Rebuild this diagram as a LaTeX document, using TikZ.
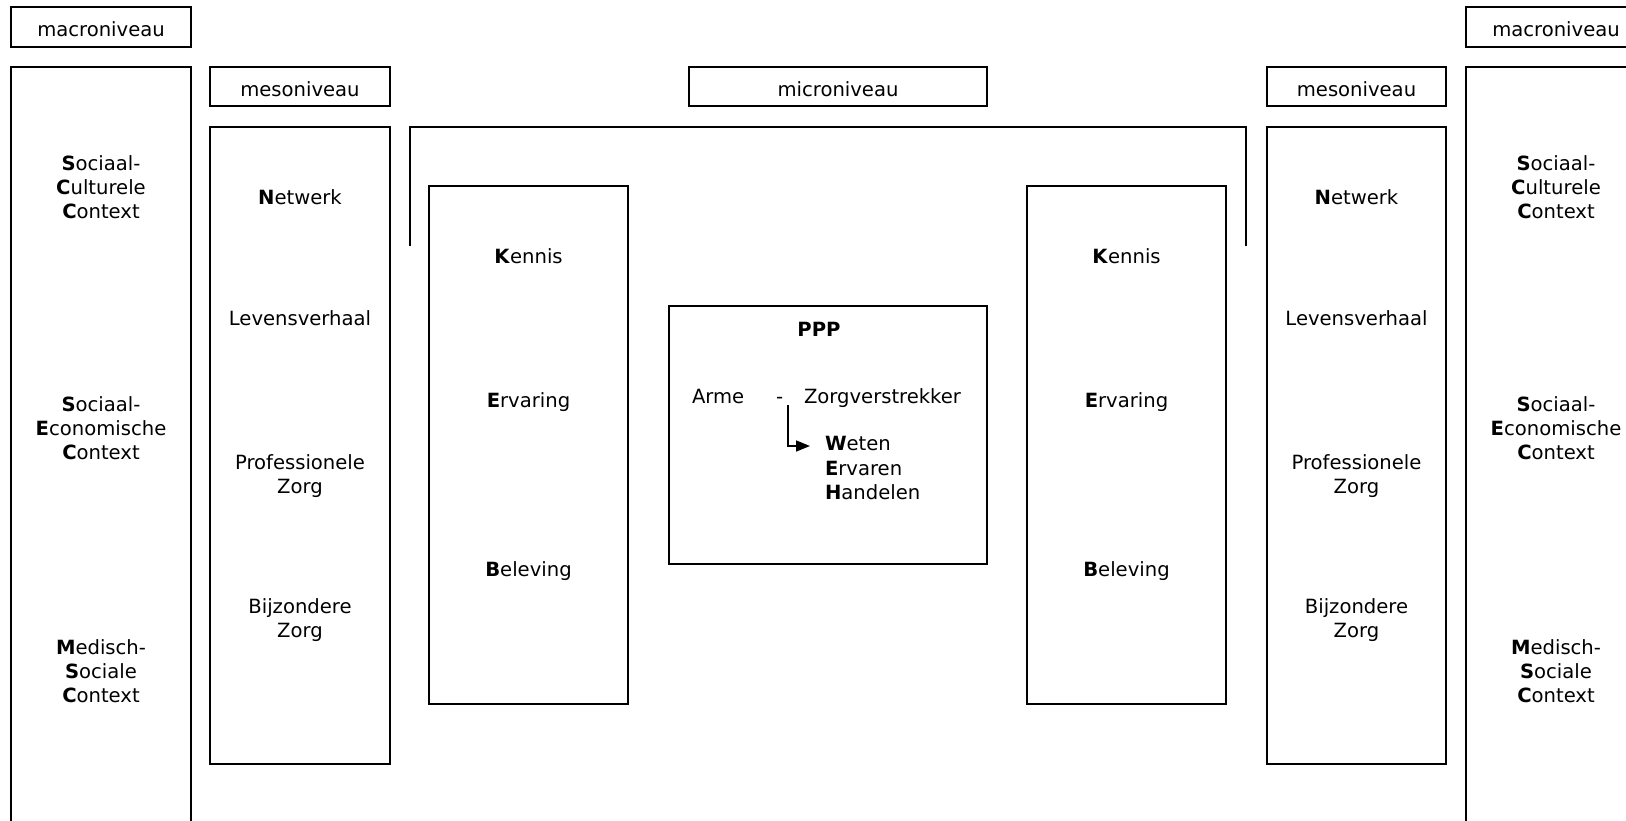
\documentclass[tikz,border=0pt]{standalone}
\usepackage{fontspec}
\setmainfont{DejaVu Sans}
\usetikzlibrary{arrows.meta}

\begin{document}
\begin{tikzpicture}[x=1pt,y=-1pt,
  frame/.style={draw=black, line width=1.6pt},
  lbl/.style={inner sep=0pt, outer sep=0pt, align=center,
    font=\fontsize{19.6}{24.2}\selectfont},
  lleft/.style={lbl, align=left, anchor=west},
  lbase/.style={lbl, anchor=base west},
  flow/.style={draw=black, line width=1.6pt, -{Triangle[length=14pt,width=11pt]}}
]
\useasboundingbox (0,0) rectangle (1626,820);
\clip (0,0) rectangle (1626,820);

% ---- macro level, left ----
\draw[frame] (11,7) rectangle (191,47);
\node[lbl] (macroL) at (101,29) {macroniveau};
\draw[frame] (11,830) -- (11,67) -- (191,67) -- (191,830);
\node[lbl] (scL) at (101,187) {\textbf{S}ociaal-\\\textbf{C}ulturele\\\textbf{C}ontext};
\node[lbl] (seL) at (101,428) {\textbf{S}ociaal-\\\textbf{E}conomische\\\textbf{C}ontext};
\node[lbl] (msL) at (101,671) {\textbf{M}edisch-\\\textbf{S}ociale\\\textbf{C}ontext};

% ---- meso level, left ----
\draw[frame] (210,67) rectangle (390,106);
\node[lbl] (mesoL) at (300,89) {mesoniveau};
\draw[frame] (210,127) rectangle (390,764);
\node[lbl] (netL) at (300,197) {\textbf{N}etwerk};
\node[lbl] (levL) at (300,318) {Levensverhaal};
\node[lbl] (proL) at (300,476) {Professionele\\Zorg};
\node[lbl] (bijL) at (300,620) {Bijzondere\\Zorg};

% ---- micro level ----
\draw[frame] (689,67) rectangle (987,106);
\node[lbl] (micro) at (838,89) {microniveau};
\draw[frame] (410,246) -- (410,127) -- (1246,127) -- (1246,246);

% knowledge / experience / perception, left
\draw[frame] (429,186) rectangle (628,704);
\node[lbl] (kenL) at (528.5,256) {\textbf{K}ennis};
\node[lbl] (ervL) at (528.5,402) {\textbf{E}rvaring};
\node[lbl] (belL) at (528.5,571) {\textbf{B}eleving};

% PPP
\draw[frame] (669,306) rectangle (987,564);
\node[lbl] (ppp) at (819,329) {\textbf{PPP}};
\node[lbase] (arme) at (692,403) {Arme};
\node[lbase] (dash) at (776,403) {-};
\node[lbase] (zorg) at (804,403) {Zorgverstrekker};
\node[lleft] (weh) at (825,468) {\textbf{W}eten\\\textbf{E}rvaren\\\textbf{H}andelen};
\coordinate (arrstart) at (788,405);
\coordinate (arrend) at (810,446);
\draw[flow] (arrstart) |- (arrend);

% knowledge / experience / perception, right
\draw[frame] (1027,186) rectangle (1226,704);
\node[lbl] (kenR) at (1126.5,256) {\textbf{K}ennis};
\node[lbl] (ervR) at (1126.5,402) {\textbf{E}rvaring};
\node[lbl] (belR) at (1126.5,571) {\textbf{B}eleving};

% ---- meso level, right ----
\draw[frame] (1267,67) rectangle (1446,106);
\node[lbl] (mesoR) at (1356.5,89) {mesoniveau};
\draw[frame] (1267,127) rectangle (1446,764);
\node[lbl] (netR) at (1356.5,197) {\textbf{N}etwerk};
\node[lbl] (levR) at (1356.5,318) {Levensverhaal};
\node[lbl] (proR) at (1356.5,476) {Professionele\\Zorg};
\node[lbl] (bijR) at (1356.5,620) {Bijzondere\\Zorg};

% ---- macro level, right ----
\draw[frame] (1466,7) rectangle (1646,47);
\node[lbl] (macroR) at (1556,29) {macroniveau};
\draw[frame] (1466,830) -- (1466,67) -- (1646,67) -- (1646,830);
\node[lbl] (scR) at (1556,187) {\textbf{S}ociaal-\\\textbf{C}ulturele\\\textbf{C}ontext};
\node[lbl] (seR) at (1556,428) {\textbf{S}ociaal-\\\textbf{E}conomische\\\textbf{C}ontext};
\node[lbl] (msR) at (1556,671) {\textbf{M}edisch-\\\textbf{S}ociale\\\textbf{C}ontext};
\end{tikzpicture}
\end{document}
